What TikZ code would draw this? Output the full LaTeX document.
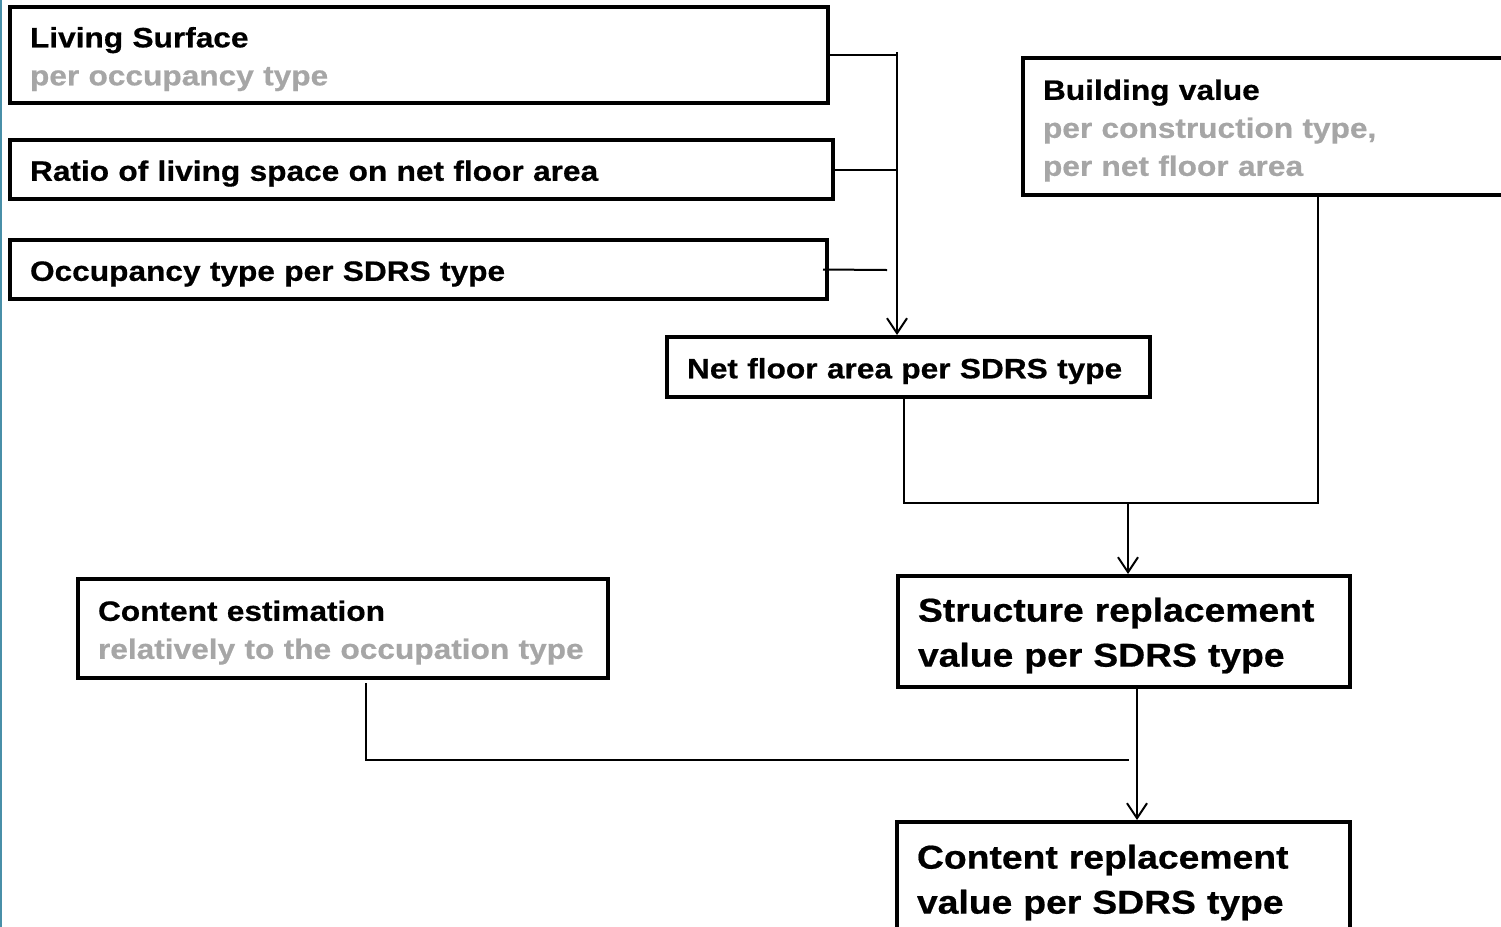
\documentclass[tikz,border=0pt]{standalone}
\usepackage{fontspec}
\setmainfont[FakeStretch=1.13,FakeBold=0.6]{Liberation Sans}
\usetikzlibrary{arrows.meta}
\definecolor{txtgray}{HTML}{A6A6A6}
\definecolor{edgeteal}{RGB}{72,143,168}
\newcommand{\lowerstrut}{\rule{0pt}{\dimexpr 0.73em+4pt\relax}}
\tikzset{
  box/.style={draw, line width=2pt, rectangle, inner xsep=10pt, inner ysep=0pt, align=left},
  small/.style={font=\fontsize{14}{19}\selectfont\bfseries},
  big/.style={font=\fontsize{16.5}{22.5}\selectfont\bfseries},
  conn/.style={line width=1pt},
  arr/.style={line width=1pt, -{Straight Barb[length=7.5pt,width=10pt,line width=1pt]}},
}
\begin{document}
\begin{tikzpicture}[x=0.5pt,y=-0.5pt]
\clip (0,0) rectangle (1501,927);
\fill[white] (0,0) rectangle (1501,927);
\draw[edgeteal, line width=1.2pt] (1,0) -- (1,927);

% boxes
\node[box, small, minimum width=409pt, minimum height=48pt, text width=389pt] (B1) at (419,55)
  {\mbox{\lowerstrut Living Surface}\\\textcolor{txtgray}{\mbox{per occupancy type}}};
\node[box, small, minimum width=411.5pt, minimum height=29.5pt, text width=391.5pt] (B2) at (421.5,169.5)
  {\mbox{\lowerstrut Ratio of living space on net floor area}};
\node[box, small, minimum width=408.5pt, minimum height=29.5pt, text width=388.5pt] (B3) at (418.5,269.5)
  {\mbox{\lowerstrut Occupancy type per SDRS type}};
\node[box, small, minimum width=241.5pt, minimum height=30pt, text width=221.5pt] (NF) at (908.5,367)
  {\mbox{\lowerstrut Net floor area per SDRS type}};
\node[box, small, minimum width=243.5pt, minimum height=68.5pt, text width=223.5pt] (BV) at (1266.5,126.5)
  {\mbox{\lowerstrut Building value}\\\textcolor{txtgray}{\mbox{per construction type,}}\\\textcolor{txtgray}{\mbox{per net floor area}}};
\node[box, big, minimum width=226pt, minimum height=55.5pt, text width=206pt] (SR) at (1124,631.5)
  {\mbox{\lowerstrut Structure replacement}\\\mbox{value per SDRS type}};
\node[box, small, minimum width=265pt, minimum height=49.5pt, text width=245pt] (CE) at (343,628.5)
  {\mbox{\lowerstrut Content estimation}\\\textcolor{txtgray}{\mbox{relatively to the occupation type}}};
\node[box, big, minimum width=226.5pt, minimum height=56.5pt, text width=206.5pt] (CR) at (1123.5,878.5)
  {\mbox{\lowerstrut Content replacement}\\\mbox{value per SDRS type}};

% junction coordinates
\coordinate (J1) at (897,52);
\coordinate (E3) at (887,270);
\coordinate (J2) at (904,503);
\coordinate (J3) at (1318,503);
\coordinate (J4) at (1128,503);
\coordinate (J5) at (366,760);
\coordinate (J6) at (1129,760);
\coordinate (J7) at (1137,0);

% connectors
\draw[conn] (B1.east) -- (B1.east -| J1);
\draw[conn] (B2.east) -- (B2.east -| J1);
\draw[conn] ([xshift=-3pt]B3.east) -- (E3);
\draw[arr] (J1) -- (J1 |- NF.north);
\draw[conn] (J2 |- NF.south) -- (J2) -- (J3) -- (J3 |- BV.south);
\draw[arr] (J4) -- (J4 |- SR.north);
\draw[conn] ([yshift=-1.5pt]J5 |- CE.south) -- (J5) -- (J6);
\draw[arr] (J7 |- SR.south) -- (J7 |- CR.north);
\end{tikzpicture}
\end{document}
